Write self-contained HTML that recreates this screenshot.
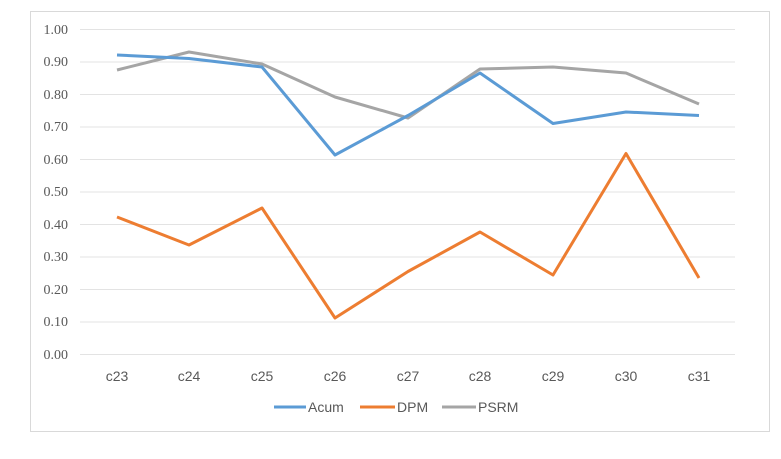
<!DOCTYPE html><html><head><style>body{margin:0;background:#fff}svg{display:block}</style></head><body>
<svg width="781" height="459" xmlns="http://www.w3.org/2000/svg">
<rect x="30.5" y="11.5" width="739" height="420" fill="#fff" stroke="#d9d9d9"/>
<g stroke="#e3e3e3" stroke-width="1">
<line x1="80" x2="735" y1="29.5" y2="29.5"/><line x1="80" x2="735" y1="62" y2="62"/><line x1="80" x2="735" y1="94.5" y2="94.5"/><line x1="80" x2="735" y1="127" y2="127"/><line x1="80" x2="735" y1="159.5" y2="159.5"/><line x1="80" x2="735" y1="192" y2="192"/><line x1="80" x2="735" y1="224.5" y2="224.5"/><line x1="80" x2="735" y1="257" y2="257"/><line x1="80" x2="735" y1="289.5" y2="289.5"/><line x1="80" x2="735" y1="322" y2="322"/><line x1="80" x2="735" y1="354.5" y2="354.5"/>
</g>
<g font-family="Liberation Serif, serif" font-size="14" fill="#595959" text-anchor="end">
<text x="68" y="34">1.00</text><text x="68" y="66">0.90</text><text x="68" y="99">0.80</text><text x="68" y="131">0.70</text><text x="68" y="164">0.60</text><text x="68" y="196">0.50</text><text x="68" y="229">0.40</text><text x="68" y="261">0.30</text><text x="68" y="294">0.20</text><text x="68" y="326">0.10</text><text x="68" y="359">0.00</text>
</g>
<g font-family="Liberation Sans Narrow, Liberation Sans, sans-serif" font-size="14" fill="#595959" text-anchor="middle">
<text x="117" y="381">c23</text><text x="189" y="381">c24</text><text x="262" y="381">c25</text><text x="335" y="381">c26</text><text x="408" y="381">c27</text><text x="480" y="381">c28</text><text x="553" y="381">c29</text><text x="626" y="381">c30</text><text x="699" y="381">c31</text>
</g>
<g fill="none" stroke-width="3" stroke-linejoin="round">
<polyline stroke="#a5a5a5" points="117,70 189,52 262,64 335,97 408,118 480,69 553,67 626,73 699,104"/>
<polyline stroke="#5b9bd5" points="117,55 189,58.5 262,67 335,155 408,115.5 480,73 553,123.5 626,112 699,115.5"/>
<polyline stroke="#ed7d31" points="117,217 189,245 262,208 335,318 408,271.5 480,232 553,275 626,153.5 699,278"/>
</g>
<g stroke-width="3"><line x1="274" x2="306" y1="407" y2="407" stroke="#5b9bd5"/><line x1="360" x2="395" y1="407" y2="407" stroke="#ed7d31"/><line x1="442" x2="476" y1="407" y2="407" stroke="#a5a5a5"/></g>
<g font-family="Liberation Sans Narrow, Liberation Sans, sans-serif" font-size="14" fill="#595959">
<text x="308" y="412">Acum</text><text x="397" y="412">DPM</text><text x="478" y="412">PSRM</text>
</g>
</svg>
</body></html>
